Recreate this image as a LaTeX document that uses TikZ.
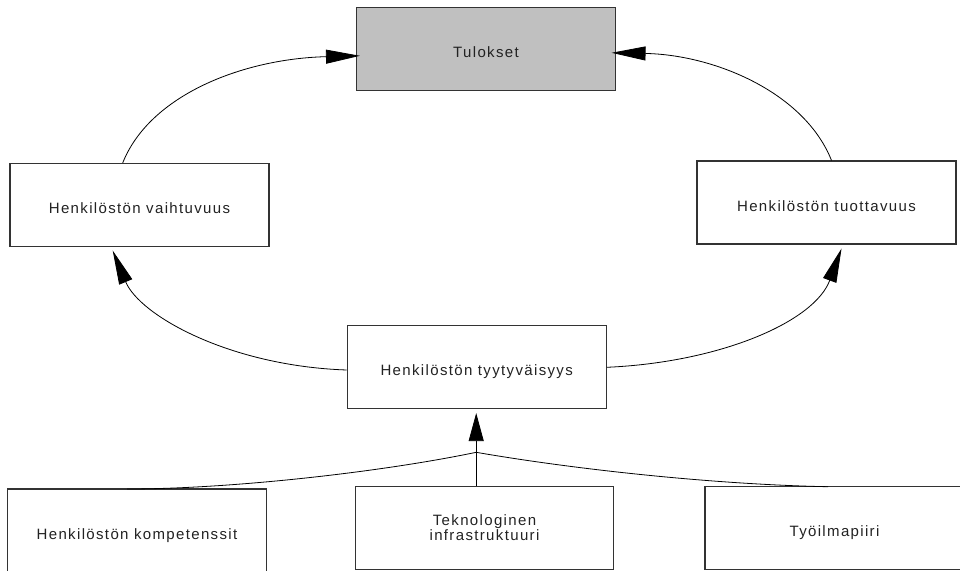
\documentclass[tikz,border=0pt]{standalone}
\usepackage{fontspec}
\setmainfont{Liberation Sans}[LetterSpace=9]
\usetikzlibrary{arrows.meta}
\definecolor{boxline}{HTML}{333333}
\definecolor{resultfill}{HTML}{C0C0C0}
\definecolor{txt}{HTML}{222222}
\tikzset{
  factor/.style={draw=boxline, line width=1.1pt, minimum width=259pt, minimum height=83pt,
    inner sep=0pt, text=txt, font=\fontsize{15}{15.5}\selectfont,
    text height=17pt, text depth=0pt},
  twoline/.style={draw=boxline, line width=1.1pt, minimum width=258pt, minimum height=83pt,
    inner sep=0pt, text=txt, font=\fontsize{15}{15.5}\selectfont, align=center},
  link/.style={draw=black, line width=0.8pt},
  arrowlink/.style={link, -{Triangle[length=34pt,width=14pt]}}
}
\begin{document}
\begin{tikzpicture}[x=1pt, y=-1pt]
  \useasboundingbox (0,0) rectangle (960,570);

  % outcome at the top
  \node[factor, fill=resultfill] (tul) at (486,48.8) {Tulokset};
  % middle level
  \node[factor] (vai) at (139.5,205) {Henkilöstön vaihtuvuus};
  \node[factor] (tuo) at (826.5,202.5) {Henkilöstön tuottavuus};
  \node[factor] (tyy) at (476.7,367) {Henkilöstön tyytyväisyys};
  % drivers at the bottom
  \node[factor] (kom) at (137,530.5) {Henkilöstön kompetenssit};
  \node[twoline, minimum height=82.5pt] (tek) at (484.5,527.8) {Teknologinen\\infrastruktuuri};
  \node[factor, minimum height=82.5pt] (ilm) at (834.5,528) {Työilmapiiri};

  % upper loop towards the outcome
  \draw[arrowlink] ([xshift=-16.8pt]vai.north)
    .. controls +(27,-68) and +(-117,3) .. ([xshift=4pt,yshift=-7pt]tul.west);
  \draw[arrowlink] ([xshift=5pt]tuo.north)
    .. controls +(-27,-68) and +(103,2) .. ([xshift=-4.5pt,yshift=-4pt]tul.east);

  % satisfaction feeding turnover and productivity
  \draw[arrowlink] ([yshift=-3pt]tyy.west)
    .. controls +(-117,-4) and +(27,65) .. ([xshift=-26.8pt,yshift=-3.5pt]vai.south);
  \draw[arrowlink] ([yshift=-0.3pt]tyy.east)
    .. controls +(114,-5) and +(-27,73) .. ([xshift=15pt,yshift=-4pt]tuo.south);

  % drivers merging into one arrow
  \coordinate (jn) at (476.2,452.3);
  \coordinate (komtop) at (127,489);
  \coordinate (ilmtop) at (828,486.7);
  \draw[link] (komtop) .. controls +(103,0) and +(-96,20) .. (jn);
  \draw[link] (ilmtop) .. controls +(-108,-2) and +(104,18) .. (jn);
  \draw[link] (tek.north -| jn) -- (jn);
  \draw[link, -{Triangle[length=28pt,width=15pt]}] (jn) -- ([yshift=-4pt]tyy.south -| jn);
\end{tikzpicture}
\end{document}
